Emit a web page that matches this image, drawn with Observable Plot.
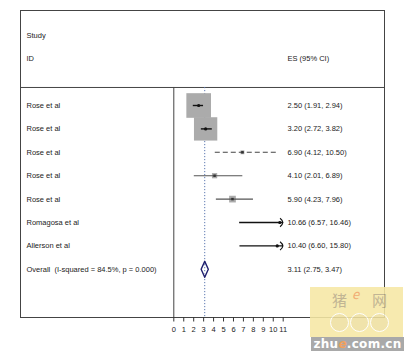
<!DOCTYPE html>
<html><head><meta charset="utf-8">
<script src="https://cdn.jsdelivr.net/npm/d3@7"></script>
<script src="https://cdn.jsdelivr.net/npm/@observablehq/plot@0.6"></script>
<style>
body{margin:0;background:#fff;}
#wrap{position:relative;width:410px;height:353px;overflow:hidden;}
#wm{position:absolute;left:310px;top:287px;width:93px;height:50px;background:#f6e8a4;opacity:0.88;font-family:"Noto Sans CJK SC",sans-serif;color:#b9ab86;font-size:15px;}
#wm .a{position:absolute;left:22px;top:2px;}
#wm .b{position:absolute;left:62px;top:2px;}
#wm .e{position:absolute;left:42px;top:-3px;color:#f0a060;font-style:italic;font-size:13px;}
#wm .c{position:absolute;top:26px;width:17px;height:17px;border:1.5px solid #fff;border-radius:50%;background:#efe0a0;}
#wmbar{position:absolute;left:311px;top:337px;width:93px;height:14px;background:#a9a9a9;color:#fff;font-family:"DejaVu Sans",sans-serif;font-weight:bold;font-size:12px;line-height:14px;text-align:center;letter-spacing:0.3px;}
#wmbar span{color:#f2a15c;font-style:italic;}
</style>
</head><body>
<div id="wrap"><div id="chart"></div>
<div id="wm"><span class="a">猪</span><span class="e">e</span><span class="b">网</span>
<span class="c" style="left:20px"></span><span class="c" style="left:40px"></span><span class="c" style="left:60px"></span></div>
<div id="wmbar">zhu<span>e</span>.com.cn</div>
</div>
<script>
const studies = ["Rose et al","Rose et al","Rose et al","Rose et al","Rose et al","Romagosa et al","Allerson et al"];
const es = [2.50, 3.20, 6.90, 4.10, 5.90, 10.66, 10.40];
const lo = [1.91, 2.72, 4.12, 2.01, 4.23, 6.57, 6.60];
const hi = [2.94, 3.82, 10.50, 6.89, 7.96, 16.46, 15.80];
const weights = [48.5, 43.5, 1.2, 2.2, 3.6, 0.4, 0.4];
const overallLabel = "Overall  (I-squared = 84.5%, p = 0.000)";
const overallEs = 3.11, overallLo = 2.75, overallHi = 3.47;
const xTicks = [0,1,2,3,4,5,6,7,8,9,10,11];
const headerStudy = "Study", headerId = "ID", headerEs = "ES (95% CI)";

const xMax = xTicks[xTicks.length - 1];
const f = v => v.toFixed(2);
const rows = studies.map((s, i) => ({
  i, study: s, es: es[i], lo: lo[i], hi: hi[i], w: weights[i],
  hiShown: Math.min(hi[i], xMax), clipped: hi[i] > xMax,
  txt: `${f(es[i])} (${f(lo[i])}, ${f(hi[i])})`
}));
const nOv = studies.length;
const overall = {i: nOv, study: overallLabel, txt: `${f(overallEs)} (${f(overallLo)}, ${f(overallHi)})`};
const headers = [{y: -3, a: headerStudy, b: ""}, {y: -2, a: headerId, b: headerEs}];
const sepY = -0.77, bottomY = 9.06;
const dh = 0.34;
const diamond = [
  {x: overallLo, y: nOv}, {x: overallEs, y: nOv - dh}, {x: overallHi, y: nOv},
  {x: overallEs, y: nOv + dh}, {x: overallLo, y: nOv}
];

const arcSymbol = {
  draw(ctx, size) {
    const r = Math.sqrt(size / Math.PI);
    ctx.moveTo(-r * 0.75, -r);
    ctx.quadraticCurveTo(r * 0.55, 0, -r * 0.75, r);
  }
};

const font = {fontFamily: "'Liberation Sans', Arial, sans-serif", fontSize: 7.5, fill: "#222"};
const big = rows.filter(d => d.w > 10);
const small = rows.filter(d => d.w <= 10 && !d.clipped);
const clipped = rows.filter(d => d.clipped);

const chart = Plot.plot({
  width: 410, height: 353,
  marginLeft: 20, marginRight: 26, marginTop: 10, marginBottom: 36,
  style: {fontFamily: "'Liberation Sans', Arial, sans-serif", fontSize: "7.5px", color: "#222", background: "transparent"},
  x: {domain: [0, xMax], range: [173.3, 282.7]},
  y: {domain: [0, nOv], range: [105, 268.8], axis: null},
  r: {type: "sqrt", domain: [0, d3.max(weights)], range: [0, 13.9]},
  marks: [
    Plot.frame({stroke: "#444", strokeWidth: 1}),
    Plot.ruleY([sepY], {stroke: "#444", strokeWidth: 1}),
    Plot.ruleX([0], {y1: sepY, y2: bottomY, stroke: "#444", strokeWidth: 1}),
    Plot.ruleX([overallEs], {y1: sepY, y2: bottomY, stroke: "#5b78b0", strokeWidth: 1, strokeDasharray: "1.2,1.8"}),
    Plot.dot(rows, {x: "es", y: "i", r: "w", symbol: "square", fill: "#ababab", stroke: "none"}),
    Plot.link(big, {x1: "lo", x2: "hiShown", y1: "i", y2: "i", stroke: "#111", strokeWidth: 1.4}),
    Plot.link(small.filter(d => d.i === 2), {x1: "lo", x2: "hiShown", y1: "i", y2: "i", stroke: "#444", strokeWidth: 1.1, strokeDasharray: "5,3"}),
    Plot.link(small.filter(d => d.i !== 2), {x1: "lo", x2: "hiShown", y1: "i", y2: "i", stroke: "#555", strokeWidth: 1.1}),
    Plot.link(clipped, {x1: "lo", x2: "hiShown", y1: "i", y2: "i", stroke: "#111", strokeWidth: 1.3}),
    Plot.dot(big, {x: "es", y: "i", r: 1.6, fill: "#111"}),
    Plot.dot(small, {x: "es", y: "i", r: 1.4, symbol: "square", fill: "#333"}),
    Plot.dot(clipped, {x: "es", y: "i", r: 1.6, fill: "#111"}),
    Plot.dot(clipped, {x: xMax, y: "i", r: 4.2, symbol: arcSymbol, fill: "none", stroke: "#111", strokeWidth: 1.1}),
    Plot.line(diamond, {x: "x", y: "y", stroke: "#1f1f6e", strokeWidth: 1.4, fill: "#fff"}),
    Plot.ruleX([overallEs], {y1: nOv - dh * 0.6, y2: nOv + dh * 0.6, stroke: "#5b78b0", strokeWidth: 1, strokeDasharray: "1.2,1.8"}),
    Plot.text(rows.concat([overall]), {y: "i", text: "study", frameAnchor: "left", dx: 6, textAnchor: "start", ...font}),
    Plot.text(rows.concat([overall]), {y: "i", text: "txt", frameAnchor: "left", dx: 267, textAnchor: "start", ...font}),
    Plot.text(headers, {y: "y", text: "a", frameAnchor: "left", dx: 6, textAnchor: "start", ...font}),
    Plot.text(headers, {y: "y", text: "b", frameAnchor: "left", dx: 267, textAnchor: "start", ...font}),
    Plot.axisX({ticks: xTicks, tickSize: 4.5, tickPadding: 5, tickFormat: d => String(d), stroke: "#333", fontSize: 7.5, fill: "#222", label: null})
  ]
});
document.getElementById("chart").appendChild(chart);
</script>
</body></html>
